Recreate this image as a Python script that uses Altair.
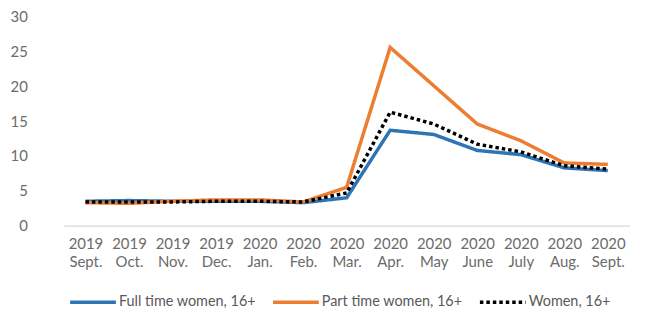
import altair as alt
import pandas as pd

months = ["2019 Sept.", "2019 Oct.", "2019 Nov.", "2019 Dec.", "2020 Jan.", "2020 Feb.",
          "2020 Mar.", "2020 Apr.", "2020 May", "2020 June", "2020 July", "2020 Aug.", "2020 Sept."]
full_time = [3.5, 3.6, 3.5, 3.5, 3.5, 3.3, 4.0, 13.7, 13.1, 10.8, 10.2, 8.3, 7.9]
part_time = [3.3, 3.2, 3.5, 3.7, 3.7, 3.4, 5.5, 25.6, 20.1, 14.6, 12.2, 9.0, 8.8]
women = [3.4, 3.4, 3.4, 3.5, 3.5, 3.4, 4.7, 16.3, 14.6, 11.7, 10.6, 8.6, 8.1]

series = ["Full time women, 16+", "Part time women, 16+", "Women, 16+"]
colors = ["#2e75b6", "#ed7d31", "#000000"]
dashes = [[1, 0], [1, 0], [3.5, 3]]

rows = []
for name, vals in zip(series, [full_time, part_time, women]):
    for m, v in zip(months, vals):
        rows.append({"month": m, "value": v, "series": name})
df = pd.DataFrame(rows)

font = "Lato"
label_color = "#6b6b6b"

legend_kw = dict(title=None, orient="none", direction="horizontal",
                 legendX=28, legendY=262,
                 symbolType="stroke", symbolSize=2116,
                 symbolStrokeWidth=3.5, labelOffset=1,
                 columnPadding=10, labelFont=font,
                 labelFontSize=14.5, labelColor="#595959")

chart = alt.Chart(df).mark_line(strokeWidth=3.5).encode(
    x=alt.X("month:N", sort=months, title=None,
            scale=alt.Scale(type="point", range=[23.5, 592.5]),
            axis=alt.Axis(labelAngle=0, labelExpr="split(datum.label, ' ')",
                          labelLineHeight=18, labelPadding=11, ticks=False,
                          domainColor="#d9d9d9", domainWidth=1.5,
                          labelColor=label_color, labelFont=font, labelFontSize=15)),
    y=alt.Y("value:Q", title=None,
            scale=alt.Scale(domain=[0, 30]),
            axis=alt.Axis(values=[0, 5, 10, 15, 20, 25, 30], grid=False, domain=False,
                          ticks=False, labelPadding=13, labelColor=label_color,
                          labelFont=font, labelFontSize=15)),
    color=alt.Color("series:N", scale=alt.Scale(domain=series, range=colors),
                    legend=alt.Legend(**legend_kw)),
    strokeDash=alt.StrokeDash("series:N", scale=alt.Scale(domain=series, range=dashes),
                              legend=alt.Legend(**legend_kw)),
).properties(
    width=604, height=210,
    autosize=alt.AutoSizeParams(type="none"),
    padding={"left": 32.5, "top": 8, "right": 4, "bottom": 83},
).configure_view(stroke=None)

chart.save("out.html", embed_options={"renderer": "svg", "actions": False})
